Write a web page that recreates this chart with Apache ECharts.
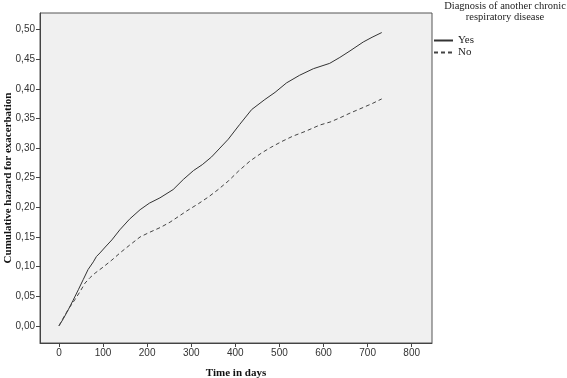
<!DOCTYPE html>
<html>
<head>
<meta charset="utf-8">
<script src="https://cdn.jsdelivr.net/npm/echarts@6/dist/echarts.min.js"></script>
<style>
  html, body { margin: 0; padding: 0; background: #fff; }
  #chart { width: 567px; height: 378px; }
</style>
</head>
<body>
<div id="chart"></div>
<script>
// time in days / cumulative hazard
var yesDays = [0, 10, 21, 32, 44, 55, 66, 78, 85, 93, 105, 120, 138, 160, 184, 205, 229, 259, 282, 305, 325, 346, 365, 384, 410, 437, 467, 490, 516, 546, 577, 614, 637, 660, 690, 710, 732]
var yesHazard = [0, 0.012, 0.027, 0.043, 0.061, 0.078, 0.095, 0.108, 0.117, 0.123, 0.133, 0.145, 0.162, 0.18, 0.196, 0.207, 0.216, 0.23, 0.247, 0.262, 0.272, 0.285, 0.3, 0.315, 0.34, 0.365, 0.382, 0.394, 0.41, 0.423, 0.434, 0.443, 0.453, 0.464, 0.479, 0.487, 0.495]
var noDays = [0, 14, 25, 36, 48, 59, 70, 82, 100, 120, 140, 160, 184, 206, 230, 252, 274, 290, 316, 340, 361, 385, 407, 433, 460, 480, 505, 530, 558, 592, 615, 637, 660, 682, 710, 732]
var noHazard = [0, 0.019, 0.032, 0.044, 0.058, 0.072, 0.081, 0.089, 0.099, 0.111, 0.124, 0.136, 0.15, 0.158, 0.166, 0.175, 0.186, 0.194, 0.206, 0.218, 0.23, 0.245, 0.261, 0.278, 0.292, 0.301, 0.311, 0.32, 0.328, 0.339, 0.344, 0.351, 0.359, 0.366, 0.375, 0.383]
var xTicks = [0, 100, 200, 300, 400, 500, 600, 700, 800]
var yTicks = [0, 0.05, 0.1, 0.15, 0.2, 0.25, 0.3, 0.35, 0.4, 0.45, 0.5]

function pairs (xs, ys) {
  return xs.map(function (x, i) { return [x, ys[i]] })
}

var chart = echarts.init(document.getElementById('chart'))
chart.setOption({
  animation: false,
  grid: {
    left: 40,
    top: 13,
    right: 135,
    bottom: 35,
    outerBoundsMode: 'none',
    show: true,
    backgroundColor: '#f0f0f0',
    borderColor: '#555',
    borderWidth: 1
  },
  graphic: [{
    type: 'text',
    x: 505,
    y: 1,
    style: {
      text: 'Diagnosis of another chronic\nrespiratory disease',
      textAlign: 'center',
      font: '10.5px "Liberation Serif"',
      fill: '#222',
      lineHeight: 11
    }
  }],
  legend: {
    orient: 'vertical',
    left: 433,
    top: 35,
    padding: 0,
    itemWidth: 19,
    itemHeight: 11,
    itemGap: 1,
    itemStyle: { opacity: 0 },
    textStyle: { fontFamily: 'Liberation Serif', fontSize: 11, color: '#222' },
    data: ['Yes', 'No']
  },
  xAxis: {
    type: 'value',
    min: -43,
    max: 846,
    name: 'Time in days',
    nameLocation: 'middle',
    nameGap: 25,
    nameMoveOverlap: false,
    nameTextStyle: { fontFamily: 'Liberation Serif', fontWeight: 'bold', fontSize: 11, color: '#111' },
    splitLine: { show: false },
    axisLine: { onZero: false, lineStyle: { color: '#444' } },
    axisTick: { customValues: xTicks, length: 4, lineStyle: { color: '#444' } },
    axisLabel: { customValues: xTicks, fontFamily: 'Liberation Sans', fontSize: 10, color: '#333', margin: 5 }
  },
  yAxis: {
    type: 'value',
    min: -0.029,
    max: 0.528,
    name: 'Cumulative hazard for exacerbation',
    nameLocation: 'middle',
    nameGap: 26,
    nameMoveOverlap: false,
    nameTextStyle: { fontFamily: 'Liberation Serif', fontWeight: 'bold', fontSize: 11, color: '#111' },
    splitLine: { show: false },
    axisLine: { onZero: false, lineStyle: { color: '#444' } },
    axisTick: { customValues: yTicks, length: 4, lineStyle: { color: '#444' } },
    axisLabel: {
      customValues: yTicks,
      fontFamily: 'Liberation Sans',
      fontSize: 10,
      color: '#333',
      margin: 5,
      formatter: function (v) { return v.toFixed(2).replace('.', ',') }
    }
  },
  series: [
    {
      name: 'Yes',
      type: 'line',
      symbol: 'none',
      data: pairs(yesDays, yesHazard),
      lineStyle: { color: '#333', width: 1 },
      itemStyle: { color: '#333' }
    },
    {
      name: 'No',
      type: 'line',
      symbol: 'none',
      data: pairs(noDays, noHazard),
      lineStyle: { color: '#444', width: 1, type: [4, 3] },
      itemStyle: { color: '#444' }
    }
  ]
})
</script>
</body>
</html>
